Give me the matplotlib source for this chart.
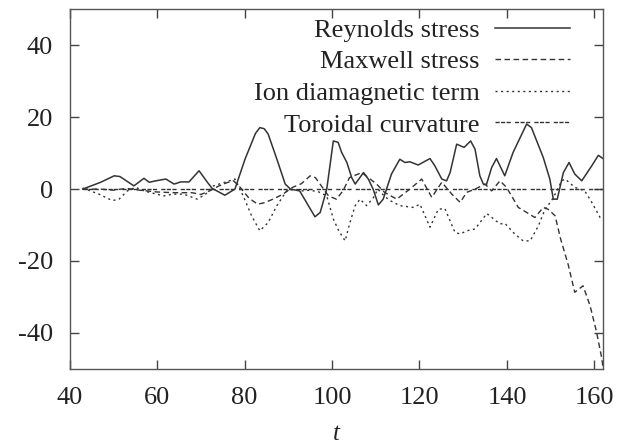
import matplotlib
matplotlib.use('Agg')
import matplotlib.pyplot as plt

plt.rcParams['font.family'] = ['Liberation Serif', 'DejaVu Serif']
plt.rcParams['axes.unicode_minus'] = False

# Reynolds stress (solid)
t_rey = [43, 47.1, 50.2, 51.5, 54.7, 57, 58.2, 59.7, 62, 63.9, 65.4, 67.3, 69.6, 71.5, 72.6,
         75.5, 77.8, 80.1, 82.5, 83.5, 84.5, 85.4, 87.4, 89.3, 90.5, 92.6, 96.1, 97.3, 98.8,
         100.3, 101.4, 102.2, 103.4, 104.5, 105.3, 107.2, 108.3, 109.4, 110.6, 111.7, 113.6,
         115.5, 116.7, 117.8, 119.7, 122.4, 123.5, 125.1, 126.2, 127, 128.5, 130.2, 131.7,
         132.7, 133.8, 134.6, 135.3, 136.5, 137.6, 139.5, 141.4, 144.5, 145.6, 148.3, 149.8,
         150.6, 151.5, 152.9, 154.2, 155.5, 157.1, 159.4, 160.9, 162.2]
rey = [0, 1.9, 3.7, 3.5, 0.9, 3, 1.9, 2.3, 2.8, 1.4, 2, 2, 5.1, 1.9, 0.2,
       -1.7, 0, 8.3, 15.5, 17.1, 16.8, 15.3, 8.3, 1.4, 0, -0.5, -7.7, -6.5, 0,
       13.4, 13, 10.2, 7.4, 3.2, 1.4, 4.6, 2.8, 0, -4.4, -2.8, 4.2,
       8.3, 7.4, 7.6, 6.7, 8.5, 6.5, 2.8, 2.3, 4.6, 12.5, 11.6, 13.4,
       11.1, 3.7, 1.4, 1.2, 6, 8.5, 3.7, 10.2, 18.1, 17.1, 8.8, 2.8,
       -2.8, -2.8, 4.6, 7.4, 4.2, 2.3, 6.5, 9.4, 8.3]

# Maxwell stress (dashed)
t_max = [43, 47, 50, 53, 56, 60, 64, 68, 70, 72, 74, 76, 77.5, 79, 81, 83, 84.5, 86.5,
         88.8, 91, 93, 95, 96.2, 97.5, 99.2, 101, 102.5, 104, 106.8, 108.5, 110.2, 112,
         114.8, 117.8, 120.5, 122.8, 125.1, 127.4, 129.3, 130.8, 132.7, 135, 136.5, 138.4,
         139.9, 142.6, 144.5, 146.4, 148.3, 149.4, 151, 152.3, 154, 155.5, 157.4, 159,
         160.5, 161.7, 162]
maxw = [0, 0, -0.3, 0.2, -0.3, -0.8, -1.0, -1.0, -1.5, -0.5, 0.8, 1.8, 2.3, 0.5, -2.5,
        -4.2, -3.8, -2.8, -1.4, 0.5, 1.5, 3.7, 3.2, 1, -1.9, -2.8, -0.5, 3.2, 4.6, 3, 1.4,
        -0.9, -2.8, 0, 2.8, -2.3, 1.9, -1.4, -3.7, -0.9, 0, 1.4, -0.5, 2.3, 0.5, -5.1, -6.5,
        -7.9, -5.1, -5.6, -7.4, -14, -21, -28.7, -26.9, -32.4, -39.8, -47.2, -50]

# Ion diamagnetic term (dotted)
t_ion = [43, 46.7, 49.8, 51.3, 53.2, 55.1, 57, 58.9, 61.6, 63.5, 66.1, 69.2, 71.1, 72.9,
         75.5, 77.8, 79.7, 81.6, 83.5, 85.4, 87.4, 89.6, 91.5, 93.2, 95, 97, 98.8, 100.3,
         101.5, 103, 104.1, 105.3, 106.4, 107.9, 109.4, 110.5, 112, 113.3, 115.5, 118.6,
         120.1, 122.4, 124.3, 125.8, 128.1, 129.3, 130.8, 132.7, 135.4, 138.4, 139.5, 141.8,
         143.7, 145.3, 147.2, 148.7, 150.2, 151.4, 152.5, 153.3, 155.5, 157.8, 159.4, 161.3,
         162]
ion = [0.3, -1.4, -3.2, -2.8, -0.5, 0.5, -0.5, -1.1, -1.9, -1.4, -1.4, -2.8, -1.4, 0.9,
       1.9, 2.8, -1.9, -7.4, -11.6, -9.3, -4.6, -0.5, 0, -0.5, -0.3, -0.8, -1.9, -8.3,
       -11.5, -14.4, -9.3, -4.6, -2.8, -4.6, -2.5, 0, -2, -3.2, -4.6, -5.1,
       -4.2, -10.6, -5.6, -5.4, -12, -12.5, -11.6, -11.1, -6.8, -9.7, -9.5, -12.5,
       -14.4, -14.4, -10.2, -5.6, -3.2, -0.5, 2.3, 2.8, 0.5, -0.5, -3.7, -7.9,
       -8.3]

# Toroidal curvature (dash-dot), flat at zero
t_tor = [43, 80, 120, 162]
tor = [0, 0, 0, 0]

labels = ['Reynolds stress', 'Maxwell stress', 'Ion diamagnetic term', 'Toroidal curvature']

fig = plt.figure(figsize=(6.27, 4.46), dpi=100)
ax = fig.add_axes([0.111, 0.173, 0.851, 0.806])

lc = '#333333'
ax.plot(t_rey, rey, color=lc, lw=1.1, ls='-', label=labels[0])
ax.plot(t_max, maxw, color=lc, lw=1.0, ls=(0, (4, 2.5)), label=labels[1])
ax.plot(t_ion, ion, color=lc, lw=1.0, ls=(0, (1.5, 2.5)), label=labels[2])
ax.plot(t_tor, tor, color=lc, lw=1.0, ls=(0, (3, 1, 3, 1, 3, 3)), label=labels[3])

ax.set_xlim(40, 162)
ax.set_ylim(-50, 50)
ax.set_xticks([40, 60, 80, 100, 120, 140, 160])
ax.set_yticks([-40, -20, 0, 20, 40])
ax.tick_params(direction='in', top=True, right=True, length=6.5, width=1,
               color='#444444', labelsize=19, labelcolor='#222222')
ax.tick_params(axis='x', pad=13)
ax.tick_params(axis='y', pad=12)
for s in ax.spines.values():
    s.set_color('#555555')
    s.set_linewidth(1)

ax.set_xlabel('t', fontsize=18, fontstyle='italic', color='#222222', labelpad=10)

ax.legend(loc='upper right', bbox_to_anchor=(0.909, 0.959), bbox_transform=fig.transFigure,
          markerfirst=False, frameon=False, fontsize=19, handlelength=2.85,
          handletextpad=0.57, labelspacing=0.31, borderpad=0, borderaxespad=0,
          labelcolor='#222222')

fig.savefig('out.png', dpi=100)
